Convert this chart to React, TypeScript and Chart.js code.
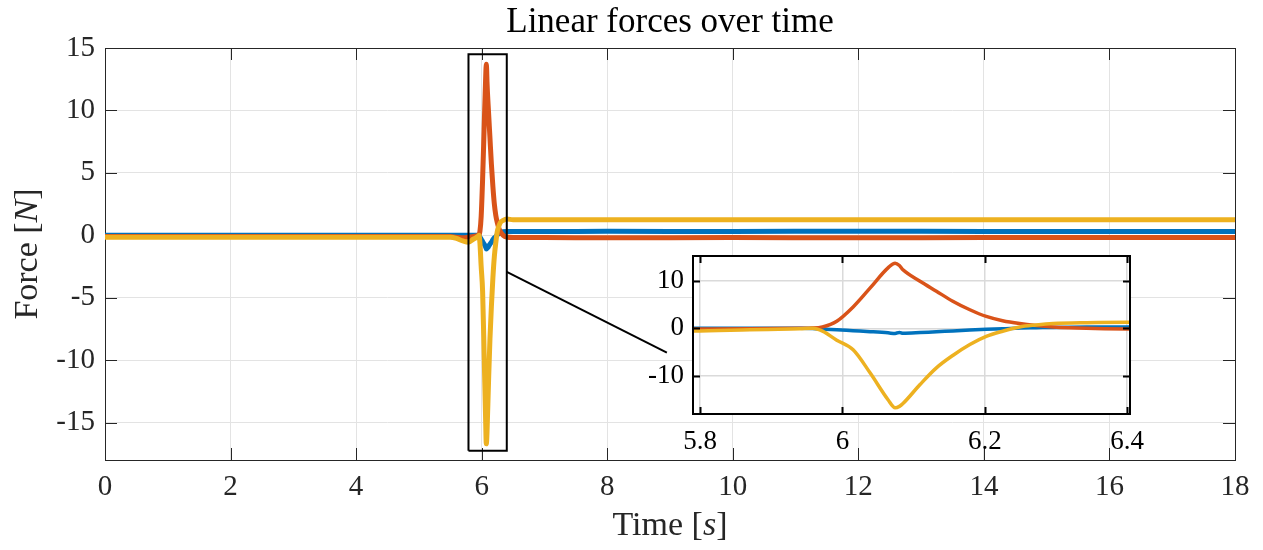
import React, { useEffect, useRef } from "react";
import { Chart, registerables } from "chart.js";

Chart.register(...registerables);

// ---------- data ----------
const TIME = [0, 2, 4, 5.5, 5.6, 5.7, 5.79, 5.87, 5.94, 5.958, 5.972, 5.992, 6.015, 6.039, 6.064, 6.074, 6.08, 6.085, 6.109, 6.132, 6.155, 6.179, 6.202, 6.225, 6.249, 6.272, 6.296, 6.343, 6.4, 6.5, 7, 8, 10, 12, 14, 16, 18];
const FORCE_X = [0, 0, 0, 0, 0, 0, 0, 0, 0, -0.05, -0.15, -0.3, -0.5, -0.7, -0.95, -1.1, -0.85, -1.05, -0.9, -0.7, -0.55, -0.35, -0.2, -0.1, 0.05, 0.12, 0.2, 0.28, 0.3, 0.3, 0.3, 0.32, 0.3, 0.33, 0.3, 0.3, 0.3];
const FORCE_Y = [-0.1, -0.1, -0.1, -0.1, -0.15, -0.2, -0.15, -0.1, 0, 0.05, 0.3, 1.5, 4.5, 8.5, 12.7, 13.7, 13.2, 12.3, 9.9, 7.8, 5.7, 3.9, 2.5, 1.6, 1.0, 0.6, 0.3, 0.0, -0.14, -0.18, -0.18, -0.2, -0.18, -0.2, -0.18, -0.18, -0.18];
const FORCE_Z = [-0.15, -0.15, -0.15, -0.15, -0.25, -0.45, -0.55, -0.3, -0.1, 0, -0.6, -2.5, -4.5, -9.4, -15.0, -16.7, -16.4, -15.8, -11.8, -8.3, -5.7, -3.4, -1.7, -0.6, 0.3, 0.7, 1.0, 1.2, 1.3, 1.25, 1.25, 1.25, 1.25, 1.25, 1.25, 1.25, 1.25];

const MAIN_X_TICKS = [0, 2, 4, 6, 8, 10, 12, 14, 16, 18];
const MAIN_Y_TICKS = [-15, -10, -5, 0, 5, 10, 15];
const INSET_X_TICKS = [5.8, 6, 6.2, 6.4];
const INSET_Y_TICKS = [-10, 0, 10];

const ZOOM_BOX_X = [5.79, 6.4, 6.4, 5.79, 5.79];
const ZOOM_BOX_Y = [-17.25, -17.25, 14.5, 14.5, -17.25];
const LINK_X = [6.4, 8.95];
const LINK_Y = [-2.94, -9.4];

const TITLE = "Linear forces over time";

// ---------- styles ----------
const BLUE = "#0072BD";
const RED = "#D95319";
const YELLOW = "#EDB120";
const AXIS = "#262626";
const FONT = "'Liberation Serif', 'Times New Roman', serif";

const pts = (xs: number[], ys: number[]) => xs.map((x, i) => ({ x, y: ys[i] }));

type FrameOpts = { tickLen: number; color: string; boxWidth: number; tickWidth: number; onTop: boolean; fill?: boolean };

function drawFrame(chart: any, o: FrameOpts) {
  const { ctx, chartArea: a, scales } = chart;
  ctx.save();
  ctx.strokeStyle = o.color;
  ctx.lineWidth = o.tickWidth;
  ctx.beginPath();
  for (const t of scales.x.ticks) {
    const px = Math.round(scales.x.getPixelForValue(t.value)) + 0.5;
    ctx.moveTo(px, a.bottom);
    ctx.lineTo(px, a.bottom - o.tickLen);
    ctx.moveTo(px, a.top);
    ctx.lineTo(px, a.top + o.tickLen);
  }
  for (const t of scales.y.ticks) {
    const py = Math.round(scales.y.getPixelForValue(t.value)) + 0.5;
    ctx.moveTo(a.left, py);
    ctx.lineTo(a.left + o.tickLen, py);
    ctx.moveTo(a.right, py);
    ctx.lineTo(a.right - o.tickLen, py);
  }
  ctx.stroke();
  ctx.lineWidth = o.boxWidth;
  const off = o.boxWidth % 2 === 1 ? 0.5 : 0;
  ctx.strokeRect(Math.round(a.left) + off, Math.round(a.top) + off, Math.round(a.right - a.left), Math.round(a.bottom - a.top));
  ctx.restore();
}

function framePlugin(o: FrameOpts) {
  return {
    id: "frameTicks",
    beforeDraw(chart: any) {
      if (o.fill) {
        const { ctx, chartArea: a } = chart;
        ctx.save();
        ctx.fillStyle = "#ffffff";
        ctx.fillRect(a.left, a.top, a.right - a.left, a.bottom - a.top);
        ctx.restore();
      }
    },
    beforeDatasetsDraw(chart: any) {
      if (!o.onTop) drawFrame(chart, o);
    },
    afterDatasetsDraw(chart: any) {
      if (o.onTop) drawFrame(chart, o);
    },
  };
}

type Seg = { text: string; italic?: boolean };

function drawSegments(ctx: CanvasRenderingContext2D, segs: Seg[], size: number, cx: number, baseline: number) {
  const fontOf = (s: Seg) => `${s.italic ? "italic " : ""}${size}px ${FONT}`;
  let total = 0;
  const widths = segs.map((s) => {
    ctx.font = fontOf(s);
    const w = ctx.measureText(s.text).width;
    total += w;
    return w;
  });
  let x = cx - total / 2;
  ctx.textAlign = "left";
  ctx.textBaseline = "alphabetic";
  segs.forEach((s, i) => {
    ctx.font = fontOf(s);
    ctx.fillText(s.text, x, baseline);
    x += widths[i];
  });
}

const titlesPlugin = {
  id: "titles",
  afterDraw(chart: any) {
    const { ctx, chartArea: a } = chart;
    const cx = (a.left + a.right) / 2;
    ctx.save();
    ctx.fillStyle = "#000000";
    drawSegments(ctx, [{ text: TITLE }], 35, cx, 32);
    ctx.fillStyle = AXIS;
    drawSegments(ctx, [{ text: "Time [" }, { text: "s", italic: true }, { text: "]" }], 34, cx, 535);
    ctx.translate(37, (a.top + a.bottom) / 2);
    ctx.rotate(-Math.PI / 2);
    drawSegments(ctx, [{ text: "Force [" }, { text: "N", italic: true }, { text: "]" }], 34, 0, 0);
    ctx.restore();
  },
};

function seriesDatasets(width: number) {
  return [
    { data: pts(TIME, FORCE_X), borderColor: BLUE, borderWidth: width, order: 3 },
    { data: pts(TIME, FORCE_Y), borderColor: RED, borderWidth: width, order: 2 },
    { data: pts(TIME, FORCE_Z), borderColor: YELLOW, borderWidth: width, order: 1 },
  ].map((d) => ({
    ...d,
    pointRadius: 0,
    cubicInterpolationMode: "monotone" as const,
    fill: false,
    borderCapStyle: "round" as const,
    borderJoinStyle: "round" as const,
  }));
}

const plainLabel = (v: any) => `${v}`;

export default function App() {
  const mainRef = useRef<HTMLCanvasElement>(null);
  const insetRef = useRef<HTMLCanvasElement>(null);

  useEffect(() => {
    const main = new Chart(mainRef.current as HTMLCanvasElement, {
      type: "line",
      data: {
        datasets: [
          ...seriesDatasets(5),
          { data: pts(ZOOM_BOX_X, ZOOM_BOX_Y), borderColor: "#000000", borderWidth: 2, pointRadius: 0, order: 0, borderJoinStyle: "miter" as const },
          { data: pts(LINK_X, LINK_Y), borderColor: "#000000", borderWidth: 2, pointRadius: 0, order: 0 },
        ] as any,
      },
      options: {
        responsive: false,
        animation: false,
        events: [],
        layout: { padding: { top: 48, right: 28, left: 0, bottom: 0 } },
        plugins: { legend: { display: false }, title: { display: false }, tooltip: { enabled: false } },
        scales: {
          x: {
            type: "linear",
            min: 0,
            max: 18,
            afterBuildTicks: (s: any) => {
              s.ticks = MAIN_X_TICKS.map((v) => ({ value: v }));
            },
            afterFit: (s: any) => {
              s.height = 90;
            },
            grid: { color: "#e3e3e3", lineWidth: 1, drawTicks: false },
            border: { display: false },
            ticks: { font: { size: 29, family: FONT }, color: AXIS, padding: 10, maxRotation: 0, autoSkip: false, callback: plainLabel },
          },
          y: {
            type: "linear",
            min: -18,
            max: 15,
            afterBuildTicks: (s: any) => {
              s.ticks = MAIN_Y_TICKS.map((v) => ({ value: v }));
            },
            afterFit: (s: any) => {
              s.width = 105;
            },
            grid: { color: "#e3e3e3", lineWidth: 1, drawTicks: false },
            border: { display: false },
            ticks: { font: { size: 29, family: FONT }, color: AXIS, padding: 10, autoSkip: false, callback: plainLabel },
          },
        },
      },
      plugins: [framePlugin({ tickLen: 12, color: AXIS, boxWidth: 1, tickWidth: 1, onTop: false }), titlesPlugin],
    } as any);

    const inset = new Chart(insetRef.current as HTMLCanvasElement, {
      type: "line",
      data: { datasets: seriesDatasets(3.5) as any },
      options: {
        responsive: false,
        animation: false,
        events: [],
        layout: { padding: { top: 36, right: 50, left: 0, bottom: 0 } },
        plugins: { legend: { display: false }, title: { display: false }, tooltip: { enabled: false } },
        scales: {
          x: {
            type: "linear",
            min: 5.79,
            max: 6.404,
            afterBuildTicks: (s: any) => {
              s.ticks = INSET_X_TICKS.map((v) => ({ value: v }));
            },
            afterFit: (s: any) => {
              s.height = 56;
            },
            grid: { color: "#dadada", lineWidth: 1.5, drawTicks: false },
            border: { display: false },
            ticks: { font: { size: 27, family: FONT }, color: "#000000", padding: 12, maxRotation: 0, autoSkip: false, callback: plainLabel },
          },
          y: {
            type: "linear",
            min: -18,
            max: 15.2,
            afterBuildTicks: (s: any) => {
              s.ticks = INSET_Y_TICKS.map((v) => ({ value: v }));
            },
            afterFit: (s: any) => {
              s.width = 73;
            },
            grid: { color: "#dadada", lineWidth: 1.5, drawTicks: false },
            border: { display: false },
            ticks: { font: { size: 27, family: FONT }, color: "#000000", padding: 9, autoSkip: false, callback: plainLabel },
          },
        },
      },
      plugins: [framePlugin({ tickLen: 7, color: "#000000", boxWidth: 2, tickWidth: 2, onTop: true, fill: true })],
    } as any);

    return () => {
      main.destroy();
      inset.destroy();
    };
  }, []);

  return (
    <div style={{ position: "absolute", left: 0, top: 0, width: 1263, height: 550, background: "#ffffff" }}>
      <canvas ref={mainRef} width={1263} height={550} style={{ position: "absolute", left: 0, top: 0 }} />
      <canvas ref={insetRef} width={560} height={250} style={{ position: "absolute", left: 620, top: 220 }} />
    </div>
  );
}
